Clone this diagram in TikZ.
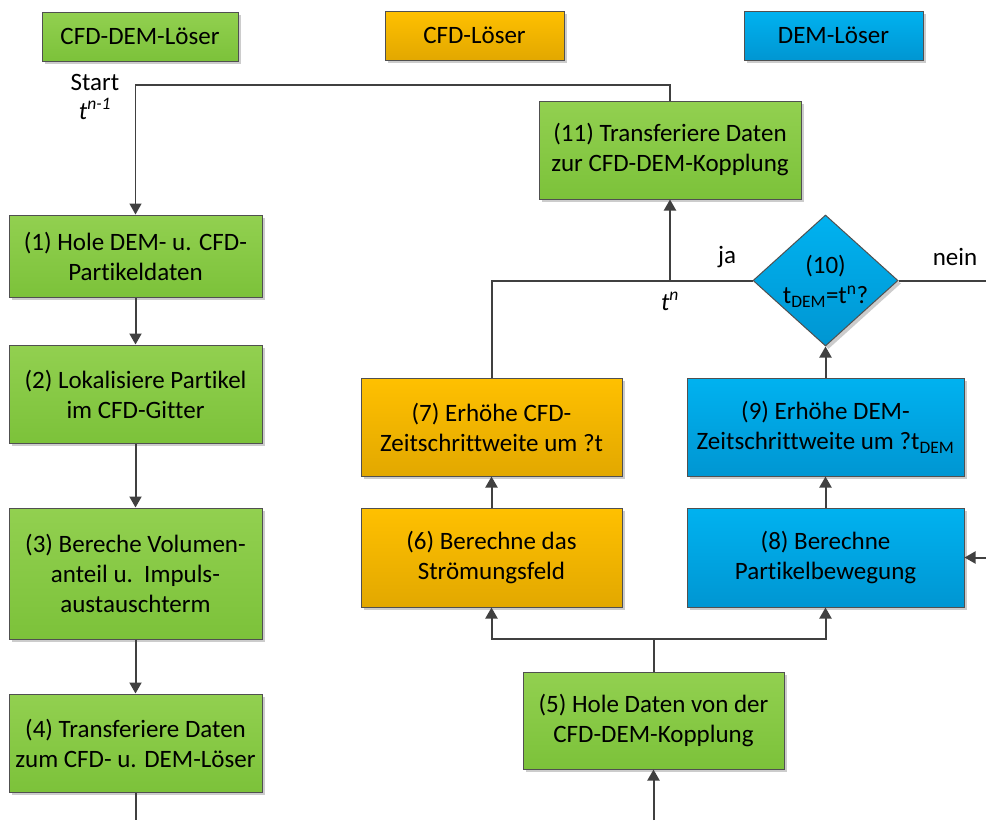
\documentclass[tikz,border=0pt]{standalone}
\usepackage{fontspec}
\setmainfont[Ligatures={NoCommon}]{Carlito}
\usetikzlibrary{shapes.geometric,arrows.meta,shadows}
\definecolor{lc}{HTML}{404040}
\definecolor{bd}{HTML}{505050}
\definecolor{gtop}{HTML}{92D050}
\definecolor{gbot}{HTML}{7CC23A}
\definecolor{otop}{HTML}{FFC000}
\definecolor{obot}{HTML}{E2A800}
\definecolor{btop}{HTML}{00B2F0}
\definecolor{bbot}{HTML}{0096D2}
\tikzset{
  box/.style={draw=bd, line width=1pt, align=center, inner sep=2pt,
    font=\fontsize{25}{30}\selectfont,
    drop shadow={shadow xshift=3pt, shadow yshift=-3pt, fill=black!20, opacity=1}},
  gbox/.style={box, top color=gtop, bottom color=gbot},
  obox/.style={box, top color=otop, bottom color=obot},
  bbox/.style={box, top color=btop, bottom color=bbot},
  conn/.style={draw=lc, line width=2pt},
  arr/.style={conn, -{Triangle[length=11pt,width=12pt]}},
  lbl/.style={font=\fontsize{25}{30}\selectfont, inner sep=0pt},
}
\begin{document}
\begin{tikzpicture}[x=1pt,y=-1pt]
\useasboundingbox (0,0) rectangle (986,820);
% legend
\node[gbox, minimum width=196, minimum height=49] (leg1) at (140,36.5) {CFD-DEM-Löser};
\node[obox, minimum width=179, minimum height=49] (leg2) at (474.5,35.5) {CFD-Löser};
\node[bbox, minimum width=179, minimum height=49] (leg3) at (833.5,35.5) {DEM-Löser};
% left column
\node[gbox, minimum width=253, minimum height=82] (b1) at (135.5,256) {(1) Hole DEM- u. CFD-\\Partikeldaten};
\node[gbox, minimum width=253, minimum height=98] (b2) at (135.5,394) {(2) Lokalisiere Partikel\\im CFD-Gitter};
\node[gbox, minimum width=253, minimum height=131] (b3) at (135.5,573.5) {(3) Bereche Volumen-\\anteil u.\ \ Impuls-\\austauschterm};
\node[gbox, minimum width=253, minimum height=98] (b4) at (135.5,743) {(4) Transferiere Daten\\zum CFD- u. DEM-Löser};
% right part
\node[gbox, minimum width=262, minimum height=98] (b11) at (670,150) {(11) Transferiere Daten\\zur CFD-DEM-Kopplung};
\node[obox, minimum width=261, minimum height=98] (b7) at (491.5,427) {(7) Erhöhe CFD-\\Zeitschrittweite um ?t};
\node[obox, minimum width=261, minimum height=99] (b6) at (491.5,557.5) {(6) Berechne das\\Strömungsfeld};
\node[bbox, minimum width=277, minimum height=98] (b9) at (825.5,427) {(9) Erhöhe DEM-\\Zeitschrittweite um ?t\textsubscript{DEM}};
\node[bbox, minimum width=277, minimum height=99] (b8) at (825.5,557.5) {(8) Berechne\\Partikelbewegung};
\node[gbox, minimum width=261, minimum height=97] (b5) at (653.5,720.5) {(5) Hole Daten von der\\CFD-DEM-Kopplung};
\node[diamond, draw=bd, line width=1pt, top color=btop, bottom color=bbot,
  minimum width=145, minimum height=131, inner sep=0pt,
  drop shadow={shadow xshift=3pt, shadow yshift=-3pt, fill=black!20, opacity=1}] (d10) at (825.5,280.5) {};
\node[lbl, align=center] (d10t) at (825.5,281) {(10)\\t\textsubscript{DEM}=t\textsuperscript{n}?};
% labels
\node[lbl, anchor=base] (start) at (95,90) {Start};
\node[lbl, anchor=base] (tn1) at (95,119) {\textit{t\textsuperscript{n-1}}};
\node[lbl, anchor=base] (ja) at (727,263) {ja};
\node[lbl, anchor=base] (tnl) at (670,310) {\textit{t\textsuperscript{n}}};
\node[lbl, anchor=base] (nein) at (955,265) {nein};
% coordinates
\coordinate (st) at (135.5,85);
\coordinate (e4) at (135.5,820);
\coordinate (e5) at (653.5,820);
\coordinate (split) at (653.5,639);
\coordinate (tn) at (670,280.5);
\coordinate (enein) at (986,280.5);
\coordinate (e8) at (986,557.5);
% connectors
\draw[arr, line width=1.5pt] (b11.north) |- (st) -- (b1.north);
\draw[arr] (b1) -- (b2);
\draw[arr] (b2) -- (b3);
\draw[arr] (b3) -- (b4);
\draw[conn] (b4.south) -- (e4);
\draw[arr] (e5) -- (b5.south);
\draw[conn] (b5.north) -- (split);
\draw[arr] (split) -| (b6.south);
\draw[arr] (split) -| (b8.south);
\draw[arr] (b6) -- (b7);
\draw[arr] (b8) -- (b9);
\draw[arr] (b9.north) -- (d10.south);
\draw[conn] (b7.north) |- (d10.west);
\draw[arr] (tn) -- (b11.south);
\draw[conn] (d10.east) -- (enein);
\draw[arr] (e8) -- (b8.east);
\end{tikzpicture}
\end{document}
